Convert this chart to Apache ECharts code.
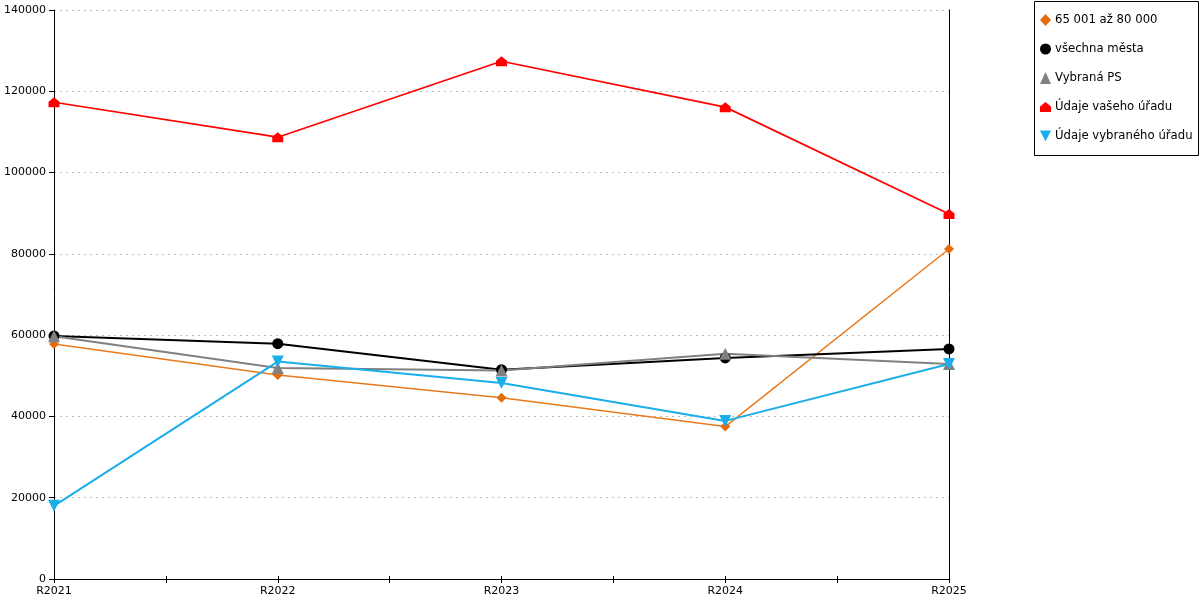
<!DOCTYPE html>
<html>
<head>
<meta charset="utf-8">
<script src="https://cdn.jsdelivr.net/npm/echarts@6/dist/echarts.min.js"></script>
<style>
  html, body { margin: 0; padding: 0; background: #fff; }
  #chart { width: 1200px; height: 600px; }
</style>
</head>
<body>
<div id="chart"></div>
<script>
// data
const years = ['R2021', 'R2022', 'R2023', 'R2024', 'R2025']
const seriesNames = ['65 001 až 80 000', 'všechna města', 'Vybraná PS', 'Údaje vašeho úřadu', 'Údaje vybraného úřadu']
const band65to80 = [57800, 50200, 44600, 37500, 81200]
const allCities = [59800, 57900, 51500, 54400, 56600]
const selectedPS = [59700, 51900, 51300, 55400, 52900]
const yourOffice = [117300, 108700, 127400, 116100, 89800]
const selectedOffice = [18000, 53500, 48200, 38900, 52900]
const yTicks = [0, 140000, 20000] // min, max, step

const font = 'DejaVu Sans'
// markers
const house = 'path://M5.5,0 L11,4.5 L11,10 L0,10 L0,4.5 Z'
const downTri = 'path://M0,0 L10,0 L5,10 Z'

const chart = echarts.init(document.getElementById('chart'), null, { renderer: 'canvas' })

// helper categories for the half-step ticks on the x axis
const halfSteps = new Array(years.length * 2 - 1).fill('')

const colors = ['#e36c0a', '#000000', '#808080', '#ff0000', '#1aaeea']
const symbols = ['diamond', 'circle', 'triangle', house, downTri]
const sizes = [10, 11, 12, [11, 11], [12, 12]]
const widths = [1.5, 2, 2, 1.7, 2]

const series = seriesNames.map((name, i) => ({
  name,
  type: 'line',
  data: [band65to80, allCities, selectedPS, yourOffice, selectedOffice][i],
  symbol: symbols[i],
  symbolSize: sizes[i],
  symbolKeepAspect: true,
  showAllSymbol: true,
  lineStyle: { color: i === 0 ? '#e87a1e' : colors[i], width: widths[i] },
  itemStyle: { color: colors[i] },
  emphasis: { disabled: true },
  z: 3
}))

chart.setOption({
  animation: false,
  grid: { left: 54, right: 251, top: 10, bottom: 21, containLabel: false },
  legend: {
    orient: 'vertical',
    left: 1035,
    top: 9,
    itemGap: 17,
    itemWidth: 11,
    itemHeight: 12,
    itemStyle: { borderWidth: 0 },
    textStyle: { fontFamily: font, fontSize: 11.7, color: '#000', padding: [0, 0, 0, -1] },
    data: seriesNames.map((name, i) => ({ name, icon: symbols[i] }))
  },
  graphic: [{
    type: 'rect',
    shape: { x: 1034.5, y: 1.5, width: 164, height: 154 },
    style: { fill: 'none', stroke: '#000', lineWidth: 1 },
    silent: true
  }],
  xAxis: [{
    type: 'category',
    data: years,
    boundaryGap: false,
    axisLine: { lineStyle: { color: '#000', width: 1 } },
    axisTick: { show: false },
    axisLabel: { fontFamily: font, fontSize: 11, color: '#000', margin: 7, interval: 0 },
    splitLine: { show: false }
  }, {
    type: 'category',
    data: halfSteps,
    boundaryGap: false,
    position: 'bottom',
    axisLine: { show: false },
    axisTick: { show: true, length: 4, interval: 0, lineStyle: { color: '#000' } },
    axisLabel: { show: false }
  }, {
    type: 'category',
    data: halfSteps,
    boundaryGap: false,
    position: 'bottom',
    axisLine: { show: false },
    axisTick: { show: true, inside: true, length: 3, interval: 0, lineStyle: { color: '#000' } },
    axisLabel: { show: false }
  }],
  yAxis: [{
    type: 'value',
    min: yTicks[0],
    max: yTicks[1],
    interval: yTicks[2],
    axisLine: { show: true, lineStyle: { color: '#000', width: 1 } },
    axisTick: { show: true, length: 5, lineStyle: { color: '#000' } },
    axisLabel: { fontFamily: font, fontSize: 11, color: '#000', margin: 8, formatter: v => String(v) },
    splitLine: { show: true, lineStyle: { color: '#bbb', type: [2, 4], width: 1 } }
  }, {
    type: 'value',
    min: yTicks[0],
    max: yTicks[1],
    interval: yTicks[2],
    position: 'right',
    axisLine: { show: true, lineStyle: { color: '#000', width: 1 } },
    axisTick: { show: false },
    axisLabel: { show: false },
    splitLine: { show: false }
  }],
  series
})
</script>
</body>
</html>
